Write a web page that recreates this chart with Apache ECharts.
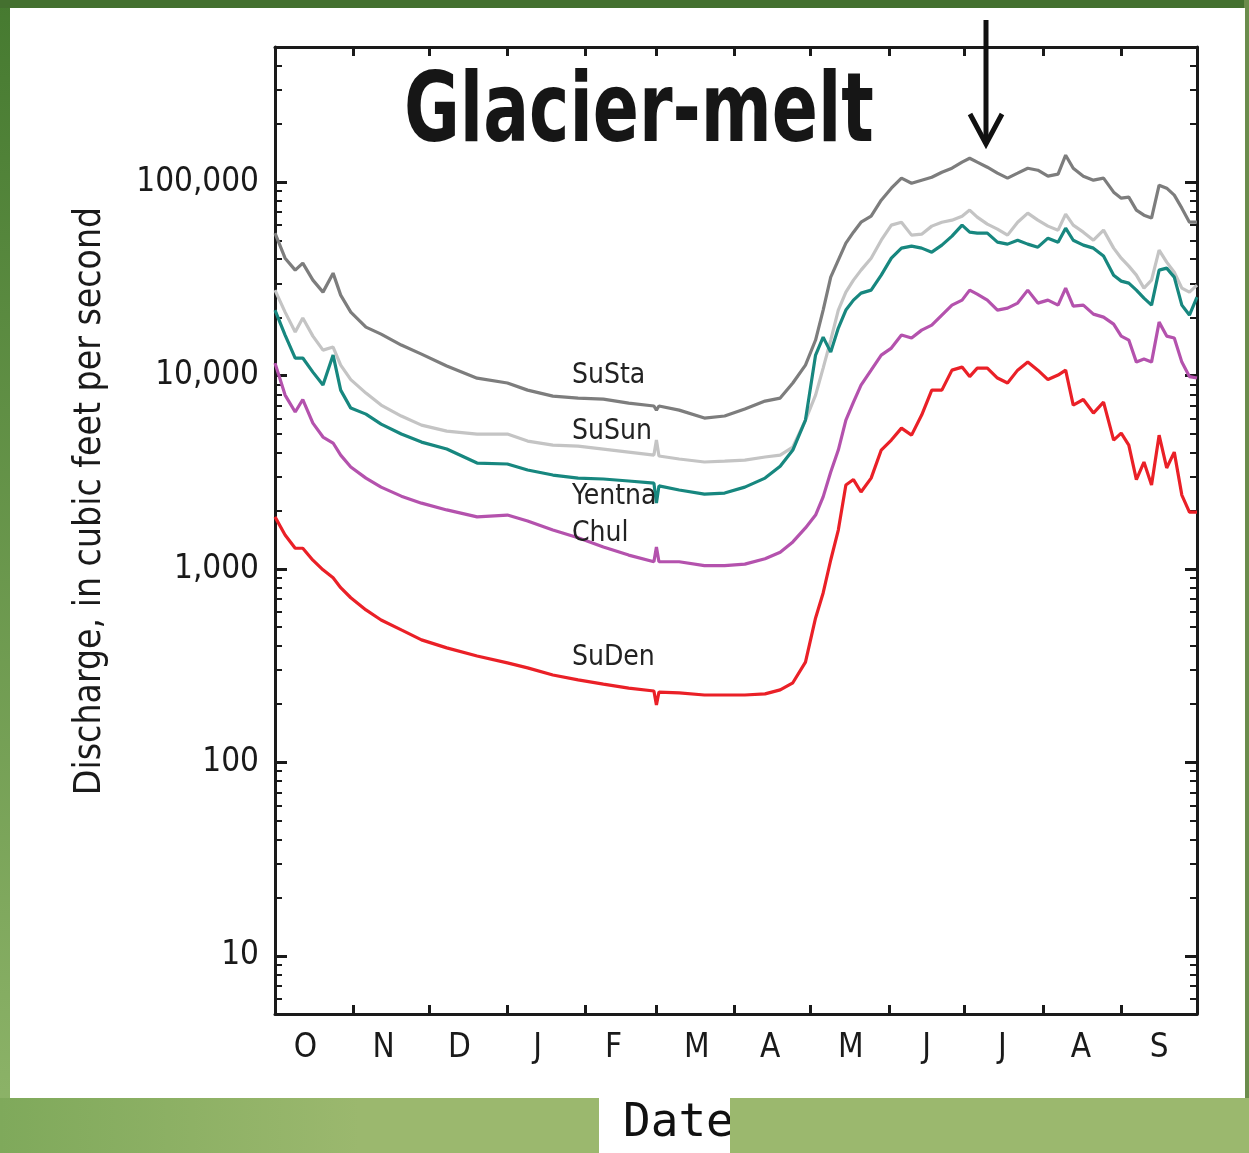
<!DOCTYPE html>
<html>
<head>
<meta charset="utf-8">
<title>Glacier-melt</title>
<script src="https://cdn.jsdelivr.net/npm/echarts@6/dist/echarts.min.js"></script>
<style>
html, body { margin: 0; padding: 0; background: #fff; }
#chart { width: 1249px; height: 1153px; }
</style>
</head>
<body>
<div id="chart"></div>
<script>
'use strict';

// day of the water year (0 = October 1)
var days = [0, 4, 8, 11, 15, 19, 23, 26, 30, 36,
    42, 50, 58, 68, 80, 92, 100, 110, 120, 130,
    140, 150, 151, 152, 160, 170, 178, 186, 194, 200,
    205, 210, 214, 217, 220, 223, 226, 229, 232, 236,
    240, 244, 248, 252, 256, 260, 264, 268, 272, 275,
    278, 282, 286, 290, 294, 298, 302, 306, 310, 313,
    316, 320, 324, 328, 332, 335, 338, 341, 344, 347,
    350, 353, 356, 359, 362, 365];

// discharge, cubic feet per second
var suSta = [54500, 40470, 35090, 38140, 31150, 27010, 33860, 26060, 21290, 17810,
    16390, 14380, 12910, 11200, 9700, 9150, 8410, 7830, 7650, 7560,
    7210, 6960, 6630, 6960, 6630, 6030, 6180, 6720, 7380, 7650,
    9150, 11330, 15270, 21810, 32280, 39520, 48400, 55150, 62100, 66700,
    80700, 93100, 104900, 98800, 102400, 106100, 112600, 118100, 126900, 133000,
    126900, 119500, 111300, 104900, 111300, 118100, 115300, 107400, 110000, 137900,
    118100, 107400, 102400, 104900, 88800, 82700, 83700, 71700, 67500, 65200,
    96500, 93100, 85700, 73400, 62100, 62100];

var suSun = [27660, 21290, 16790, 19830, 16000, 13540, 14040, 11330, 9535, 8120,
    7040, 6175, 5546, 5165, 4985, 4985, 4585, 4372, 4320, 4170,
    4024, 3882, 4642, 3837, 3703, 3573, 3615, 3658, 3792, 3882,
    4271, 5888, 7926, 10930, 15260, 21810, 27010, 31150, 35090, 40470,
    50100, 59950, 62100, 53240, 53870, 59260, 62100, 63630, 66700, 71700,
    65950, 60670, 57180, 53240, 62100, 69150, 63630, 59260, 56490, 68340,
    59950, 55150, 50100, 56490, 45600, 40470, 36800, 33060, 28330, 31150,
    44530, 38600, 34260, 28330, 27010, 29350];

var yentna = [21810, 16200, 12320, 12320, 10420, 8930, 12760, 8410, 6790, 6320,
    5610, 4985, 4530, 4170, 3530, 3490, 3250, 3060, 2950, 2920,
    2850, 2780, 2190, 2690, 2560, 2440, 2470, 2650, 2950, 3400,
    4120, 5890, 12760, 15810, 13220, 17600, 21810, 24560, 26700, 27660,
    33060, 40470, 45600, 46700, 45600, 43460, 47250, 52600, 59950, 55150,
    54500, 54500, 48970, 47830, 50100, 47830, 46130, 51360, 48970, 57860,
    50100, 47250, 45600, 41470, 33060, 30790, 30060, 27660, 25150, 23140,
    35090, 35940, 32280, 23140, 20550, 25440];

var chul = [11600, 7930, 6480, 7520, 5680, 4810, 4480, 3880, 3370, 2950,
    2650, 2380, 2190, 2020, 1860, 1900, 1770, 1590, 1450, 1300,
    1180, 1090, 1300, 1090, 1090, 1040, 1040, 1060, 1130, 1220,
    1380, 1630, 1900, 2360, 3170, 4120, 5890, 7290, 8930, 10670,
    12760, 13870, 16200, 15630, 17180, 18240, 20550, 23140, 24560, 27660,
    26380, 24560, 21810, 22330, 23700, 27660, 23700, 24560, 23140, 28330,
    22870, 23140, 20790, 20060, 18460, 16000, 15260, 11740, 12170, 11740,
    18900, 16000, 15630, 11740, 9880, 9710];

var suDen = [1860, 1500, 1280, 1280, 1110, 990, 900, 800, 710, 614,
    545, 484, 430, 391, 355, 327, 308, 283, 267, 254,
    242, 234, 198, 231, 229, 223, 223, 223, 226, 237,
    258, 330, 558, 752, 1113, 1590, 2720, 2900, 2500, 2950,
    4120, 4640, 5350, 4920, 6250, 8410, 8410, 10670, 11060, 9880,
    10930, 10930, 9710, 9150, 10670, 11740, 10670, 9535, 10060, 10670,
    7040, 7520, 6400, 7290, 4640, 5040, 4370, 2900, 3570, 2720,
    4920, 3330, 4020, 2410, 1970, 1970];

var seriesNames = ['SuSta', 'SuSun', 'Yentna', 'Chul', 'SuDen'];
var monthLetters = ['O', 'N', 'D', 'J', 'F', 'M', 'A', 'M', 'J', 'J', 'A', 'S'];
var monthStarts = [0, 31, 61, 92, 123, 151, 182, 212, 243, 273, 304, 335, 365];
// where each month letter sits (day of water year), as printed on the original
var monthLabelDays = [12, 43, 73, 104, 134, 167, 196, 228, 258, 288, 319, 350];

var narrow = "'Liberation Sans Narrow', 'DejaVu Sans Condensed', 'Noto Sans', sans-serif";
var ink = '#1a1a1a';

var pairs = function (values) {
    var out = [];
    for (var i = 0; i < days.length; i++) {
        out.push([days[i], values[i]]);
    }
    return out;
};

// month boundaries get ticks
var boundaryTicks = monthStarts.slice(1, -1);

// log minor ticks (2..9 of every decade)
var minorTicks = [];
for (var p = 0; p <= 5; p++) {
    for (var k = 2; k <= 9; k++) {
        var v = k * Math.pow(10, p);
        if (v > 5 && v < 500000) {
            minorTicks.push(v);
        }
    }
}

var withCommas = function (value) {
    return String(Math.round(value)).replace(/\B(?=(\d{3})+(?!\d))/g, ',');
};

var logAxis = function (position, withLabels, minor) {
    return {
        type: 'log',
        logBase: 10,
        position: position,
        min: 5,
        max: 500000,
        axisLine: { show: !minor, lineStyle: { color: ink, width: 3 } },
        axisTick: minor ? {
            inside: true, length: 7, customValues: minorTicks,
            lineStyle: { color: ink, width: 2 }
        } : {
            inside: true, length: 12, lineStyle: { color: ink, width: 3 }
        },
        axisLabel: {
            show: withLabels,
            showMinLabel: false,
            showMaxLabel: false,
            margin: 16,
            fontFamily: narrow,
            fontSize: 33,
            color: ink,
            formatter: withCommas
        },
        minorTick: { show: false },
        splitLine: { show: false }
    };
};

var dayAxis = function (position, withLabels) {
    return {
        type: 'value',
        position: position,
        min: 0,
        max: 365,
        axisLine: { show: true, lineStyle: { color: ink, width: 3 } },
        axisTick: {
            inside: true, length: 9, customValues: boundaryTicks,
            lineStyle: { color: ink, width: 3 }
        },
        axisLabel: {
            show: withLabels,
            customValues: monthLabelDays,
            margin: 18,
            fontFamily: narrow,
            fontSize: 33,
            color: ink,
            formatter: function (value) {
                var i = monthLabelDays.indexOf(value);
                return i >= 0 ? monthLetters[i] : '';
            }
        },
        splitLine: { show: false }
    };
};

var line = function (name, values, color) {
    return {
        name: name,
        type: 'line',
        xAxisIndex: 0,
        yAxisIndex: 0,
        data: pairs(values),
        showSymbol: false,
        symbol: 'none',
        lineStyle: { color: color, width: 3.2 },
        itemStyle: { color: color },
        z: 3
    };
};

var label = function (text, x, y) {
    return {
        type: 'text', x: x, y: y, silent: true, z: 10,
        style: {
            text: text, fill: '#222', fontFamily: narrow, fontSize: 28,
            align: 'left', verticalAlign: 'middle',
            textAlign: 'left', textVerticalAlign: 'middle'
        }
    };
};

var chart = echarts.init(document.getElementById('chart'), null, { renderer: 'canvas' });

chart.setOption({
    animation: false,
    backgroundColor: '#5e8c3e',
    grid: { left: 275, top: 47, width: 922, height: 967, containLabel: false },
    xAxis: [dayAxis('bottom', true), dayAxis('top', false)],
    yAxis: [
        logAxis('left', true, false),
        logAxis('left', false, true),
        logAxis('right', false, false),
        logAxis('right', false, true)
    ],
    series: [
        line(seriesNames[0], suSta, '#7d7d7d'),
        line(seriesNames[1], suSun, '#c4c4c4'),
        line(seriesNames[2], yentna, '#17877f'),
        line(seriesNames[3], chul, '#b452ad'),
        line(seriesNames[4], suDen, '#ea2027')
    ],
    graphic: [
        // frame
        {
            type: 'rect', silent: true, z: -30,
            shape: { x: 0, y: 0, width: 1249, height: 1153 },
            style: { fill: new echarts.graphic.LinearGradient(0, 0, 0, 1, [
                { offset: 0, color: '#467a30' }, { offset: 1, color: '#8fb56a' }
            ]) }
        },
        {
            type: 'rect', silent: true, z: -29,
            shape: { x: 0, y: 0, width: 1249, height: 8 },
            style: { fill: '#44702f' }
        },
        {
            type: 'rect', silent: true, z: -29,
            shape: { x: 1244, y: 0, width: 5, height: 1100 },
            style: { fill: '#6b8c4c' }
        },
        {
            type: 'rect', silent: true, z: -28,
            shape: { x: 10, y: 8, width: 1235, height: 1090 },
            style: { fill: '#ffffff' }
        },
        {
            type: 'rect', silent: true, z: -28,
            shape: { x: 0, y: 1098, width: 599, height: 55 },
            style: { fill: new echarts.graphic.LinearGradient(0, 0, 1, 0, [
                { offset: 0, color: '#7fa95b' }, { offset: 0.6, color: '#9bb86e' },
                { offset: 1, color: '#9bb86e' }
            ]) }
        },
        {
            type: 'rect', silent: true, z: -27,
            shape: { x: 599, y: 1098, width: 131, height: 55 },
            style: { fill: '#ffffff' }
        },
        {
            type: 'text', x: 623, y: 1124, silent: true, z: 10,
            style: {
                text: 'Date', fill: '#111', fontFamily: "'DejaVu Sans Mono', 'Liberation Mono', monospace",
                fontSize: 46, align: 'left', verticalAlign: 'middle',
                textAlign: 'left', textVerticalAlign: 'middle'
            }
        },
        {
            type: 'rect', silent: true, z: 11,
            shape: { x: 730, y: 1098, width: 519, height: 55 },
            style: { fill: '#9bb86e' }
        },
        // y axis title
        {
            type: 'text', x: 90, y: 501, rotation: Math.PI / 2, silent: true, z: 10,
            style: {
                text: 'Discharge, in cubic feet per second', fill: ink, fontFamily: narrow,
                fontSize: 37, align: 'center', verticalAlign: 'middle',
                textAlign: 'center', textVerticalAlign: 'middle'
            }
        },
        // title
        {
            type: 'text', x: 404, y: 116, scaleX: 0.78, silent: true, z: 10,
            style: {
                text: 'Glacier-melt', fill: '#161616', fontFamily: narrow, fontWeight: 'bold',
                fontSize: 97, align: 'left', verticalAlign: 'middle',
                textAlign: 'left', textVerticalAlign: 'middle'
            }
        },
        // arrow
        {
            type: 'line', silent: true, z: 10,
            shape: { x1: 986, y1: 20, x2: 986, y2: 144 },
            style: { stroke: '#111', lineWidth: 5 }
        },
        {
            type: 'polyline', silent: true, z: 10,
            shape: { points: [[970, 114], [986, 144], [1002, 114]] },
            style: { stroke: '#111', lineWidth: 5, fill: null, lineJoin: 'miter' }
        },
        // series names
        label(seriesNames[0], 572, 376),
        label(seriesNames[1], 572, 432),
        label(seriesNames[2], 572, 497),
        label(seriesNames[3], 572, 534),
        label(seriesNames[4], 572, 658)
    ]
});

window.addEventListener('resize', function () {
    chart.resize();
});
</script>
</body>
</html>
